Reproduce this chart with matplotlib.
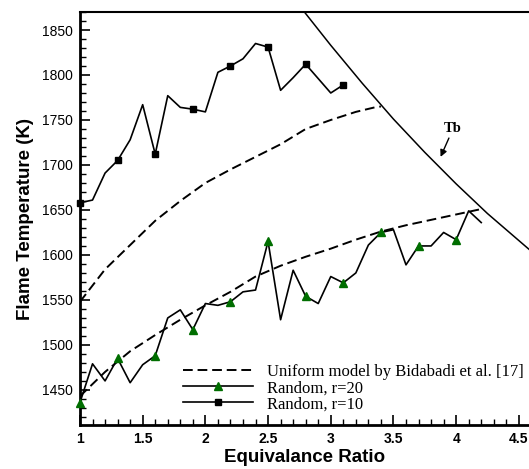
import matplotlib
matplotlib.use("Agg")
import matplotlib.pyplot as plt
import numpy as np
from matplotlib.ticker import MultipleLocator

# equivalence ratio grid for the random models
phi_r10 = np.round(np.arange(1.0, 3.11, 0.1), 1)
T_r10 = [1658, 1661, 1691, 1705, 1728, 1767, 1712, 1777, 1764, 1762, 1759,
         1803, 1810, 1818, 1835, 1831, 1783, 1797, 1812, 1796, 1780, 1789]

phi_r20 = np.round(np.arange(1.0, 4.21, 0.1), 1)
T_r20 = [1436, 1479, 1460, 1485, 1458, 1478, 1488, 1530, 1539, 1517, 1546,
         1544, 1548, 1559, 1561, 1615, 1528, 1583, 1554, 1546, 1576, 1569,
         1580, 1611, 1625, 1628, 1589, 1610, 1610, 1625, 1617, 1649, 1636]

# uniform model (two dashed branches)
phi_u_upper = [1.0, 1.2, 1.4, 1.6, 1.8, 2.0, 2.2, 2.4, 2.6, 2.8, 3.0, 3.2, 3.35, 3.4]
T_u_upper = [1548, 1584, 1611, 1638, 1660, 1680, 1695, 1709, 1723, 1740, 1750, 1759, 1764, 1765]

phi_u_lower = [1.0, 1.2, 1.4, 1.6, 1.8, 2.0, 2.2, 2.4, 2.6, 2.8, 3.0, 3.2, 3.4, 3.6, 3.8, 4.0, 4.2]
T_u_lower = [1443, 1470, 1493, 1511, 1528, 1544, 1559, 1576, 1588, 1598, 1607, 1617, 1626, 1633, 1639, 1645, 1651]

# burned gas temperature Tb
phi_tb = [2.75, 3.0, 3.25, 3.5, 3.75, 4.0, 4.25, 4.5, 4.6]
T_tb = [1877, 1833, 1791, 1751, 1714, 1679, 1646, 1616, 1604]

green = "#006e00"

fig = plt.figure(figsize=(5.29, 4.69), dpi=100)
ax = fig.add_axes([0.1512, 0.0938, 0.8488, 0.8806])

l_u, = ax.plot(phi_u_upper, T_u_upper, color="black", lw=1.4, dashes=(5, 2.5))
ax.plot(phi_u_lower, T_u_lower, color="black", lw=1.4, dashes=(5, 2.5))
l20, = ax.plot(phi_r20, T_r20, color="black", lw=1.2, marker="^", markersize=6,
               markerfacecolor=green, markeredgecolor=green, markevery=3,
               clip_on=False, zorder=3)
l10, = ax.plot(phi_r10, T_r10, color="black", lw=1.2, marker="s", markersize=5,
               markerfacecolor="black", markeredgecolor="black", markevery=3,
               clip_on=False, zorder=3)
ax.plot(phi_tb, T_tb, color="black", lw=1.1)

ax.annotate("Tb", xy=(3.876, 1709), xytext=(3.975, 1733),
            fontsize=10.5, fontweight="bold", family="Liberation Serif",
            ha="center", va="bottom",
            arrowprops=dict(arrowstyle="-|>", color="black", lw=1.0,
                            mutation_scale=10, shrinkA=0, shrinkB=0))

ax.set_xlim(1, 4.581)
ax.set_ylim(1411, 1870)

ax.xaxis.set_major_locator(MultipleLocator(0.5))
ax.xaxis.set_minor_locator(MultipleLocator(0.1))
ax.yaxis.set_major_locator(MultipleLocator(50))
ax.yaxis.set_minor_locator(MultipleLocator(10))
ax.set_xticks([1, 1.5, 2, 2.5, 3, 3.5, 4, 4.5])
ax.set_xticklabels(["1", "1.5", "2", "2.5", "3", "3.5", "4", "4.5"])

ax.tick_params(which="both", direction="in", top=False, right=False)
ax.tick_params(which="major", length=7, width=1.2)
ax.tick_params(which="minor", length=4, width=1.0)
ax.tick_params(axis="y", labelsize=10, pad=5)
ax.tick_params(axis="x", labelsize=10, pad=5)
for lab in ax.get_xticklabels():
    lab.set_fontweight("bold")
    lab.set_family("Liberation Sans")
for lab in ax.get_yticklabels():
    lab.set_family("Liberation Sans")

ax.spines["right"].set_visible(False)
ax.spines["left"].set_linewidth(2)
ax.spines["bottom"].set_linewidth(2)
ax.spines["top"].set_linewidth(1.5)

ax.set_xlabel("Equivalance Ratio", fontsize=13.5, fontweight="bold",
              family="Liberation Sans", labelpad=2)
ax.set_ylabel("Flame Temperature (K)", fontsize=13.5, fontweight="bold",
              family="Liberation Sans", labelpad=6)

ax.legend([l_u, l20, l10],
          ["Uniform model by Bidabadi et al. [17]", "Random, r=20", "Random, r=10"],
          loc="lower left", bbox_to_anchor=(0.229, 0.031), frameon=False,
          borderpad=0, borderaxespad=0, handlelength=4.2, handletextpad=0.84,
          labelspacing=0.0, prop={"family": "Liberation Serif", "size": 12})

fig.savefig("out.png", dpi=100)
